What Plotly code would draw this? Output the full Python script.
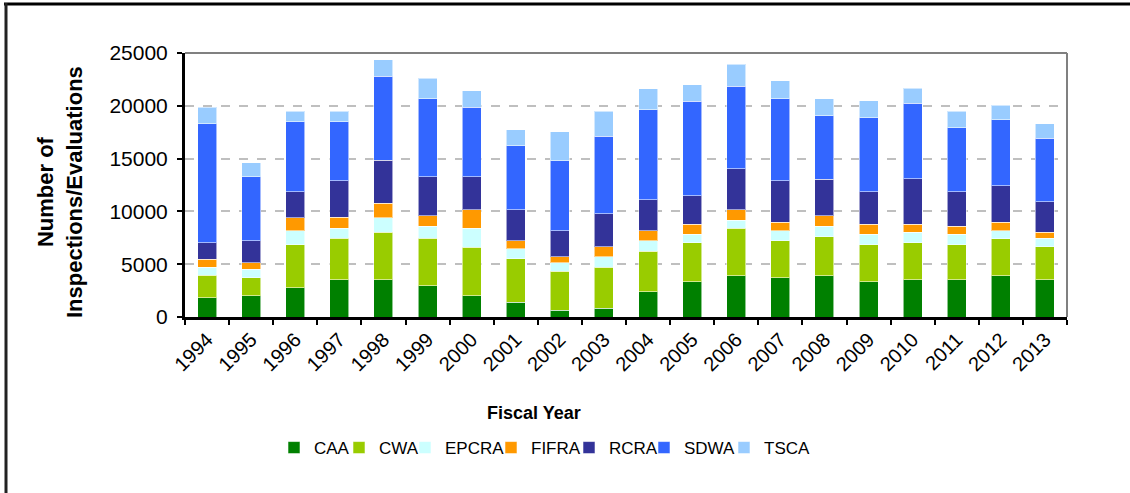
import plotly.graph_objects as go

years = [str(y) for y in range(1994, 2014)]
CAA   = [1800, 2000, 2750, 3550, 3550, 2980, 2000, 1420, 660, 850, 2370, 3320, 3920, 3700, 3920, 3320, 3550, 3550, 3920, 3550]
CWA   = [2150, 1700, 4110, 3890, 4460, 4460, 4620, 4080, 3670, 3860, 3860, 3700, 4490, 3510, 3670, 3510, 3480, 3290, 3480, 3100]
EPCRA = [760, 820, 1330, 980, 1390, 1170, 1800, 950, 790, 980, 980, 820, 760, 980, 1010, 1010, 980, 1010, 790, 790]
FIFRA = [760, 600, 1230, 1010, 1360, 980, 1740, 790, 570, 980, 980, 950, 980, 790, 980, 950, 790, 760, 790, 600]
RCRA  = [1580, 2120, 2440, 3480, 4080, 3700, 3130, 2910, 2500, 3100, 2910, 2690, 3890, 3920, 3480, 3070, 4270, 3260, 3450, 2880]
SDWA  = [11270, 6050, 6650, 5600, 7940, 7370, 6550, 6050, 6610, 7340, 8550, 8930, 7790, 7750, 5980, 6990, 7190, 6050, 6240, 6010]
TSCA  = [1550, 1330, 980, 980, 1580, 1930, 1580, 1550, 2720, 2370, 1960, 1580, 2120, 1740, 1610, 1620, 1390, 1580, 1390, 1390]

series = [("CAA", CAA, "#008000"), ("CWA", CWA, "#99CC00"), ("EPCRA", EPCRA, "#CCFFFF"),
          ("FIFRA", FIFRA, "#FF9900"), ("RCRA", RCRA, "#333399"), ("SDWA", SDWA, "#3366FF"),
          ("TSCA", TSCA, "#99CCFF")]

# pixel x where each legend label's text starts
legend_text_x = [315, 380, 446, 532, 610, 685, 765]

FONT = "Liberation Sans, Arial, sans-serif"

W, H = 1130, 493
L, R, T, B = 185, 1067, 53, 317
pw, ph = R - L, B - T

def px(x):
    return (x - L) / pw

def py(y):
    return (B - y) / ph

fig = go.Figure()
legend_layouts = {}
for i, (name, vals, col) in enumerate(series):
    lg = "legend" if i == 0 else f"legend{i+1}"
    fig.add_trace(go.Bar(x=years, y=vals, name=name, legend=lg,
                         marker=dict(color=col, line=dict(color="rgba(255,255,255,0.55)", width=1))))
    legend_layouts[lg] = dict(orientation="h", x=px(legend_text_x[i] - 41), xanchor="left",
                              y=py(448), yanchor="middle",
                              font=dict(size=17, family=FONT), itemwidth=30,
                              bgcolor="rgba(0,0,0,0)", borderwidth=0)

fig.update_layout(
    width=W, height=H, barmode="stack", bargap=0.57,
    margin=dict(l=L, r=W - R, t=T, b=H - B),
    paper_bgcolor="white", plot_bgcolor="white",
    font=dict(family=FONT, color="black"),
    showlegend=True,
    xaxis=dict(type="category", tickangle=-45, tickfont=dict(size=20, family=FONT),
               showline=True, linecolor="black", linewidth=3,
               ticks="outside", tickson="boundaries", ticklen=5, tickwidth=2, tickcolor="black",
               showgrid=False),
    yaxis=dict(range=[0, 25000], dtick=5000, tickformat="d", tickfont=dict(size=21, family=FONT),
               showline=True, linecolor="black", linewidth=3, ticklabelstandoff=5,
               ticks="outside", ticklen=5, tickwidth=2, tickcolor="black",
               showgrid=True, gridcolor="#BFBFBF", griddash="dash", gridwidth=1.5,
               zeroline=False),
    annotations=[
        dict(text="<b>Number of<br>Inspections/Evaluations</b>", textangle=-90,
             x=px(60), y=py(192), xref="paper", yref="paper", showarrow=False,
             font=dict(size=22, family=FONT), xanchor="center", yanchor="middle"),
        dict(text="<b>Fiscal Year</b>", x=px(534), y=py(413), xref="paper", yref="paper",
             showarrow=False, font=dict(size=18, family=FONT), xanchor="center", yanchor="middle"),
    ],
    shapes=[
        dict(type="line", xref="paper", yref="paper", x0=0, x1=1, y0=1, y1=1,
             line=dict(color="#808080", width=2)),
        dict(type="line", xref="paper", yref="paper", x0=1, x1=1, y0=0, y1=1,
             line=dict(color="#808080", width=2)),
        dict(type="line", xref="paper", yref="paper", x0=px(4), x1=px(1130), y0=py(4), y1=py(4),
             line=dict(color="black", width=3)),
        dict(type="line", xref="paper", yref="paper", x0=px(6), x1=px(6), y0=py(3), y1=py(493),
             line=dict(color="#222222", width=3)),
    ],
)
fig.update_layout(**legend_layouts)

fig.write_html("out.html", config={"displayModeBar": False},
               post_script="document.body.style.margin='0';")
